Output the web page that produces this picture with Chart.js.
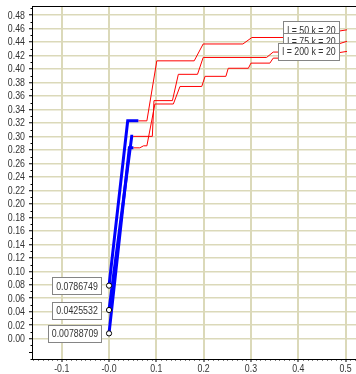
<!DOCTYPE html>
<html>
<head>
<meta charset="utf-8">
<script src="https://cdn.jsdelivr.net/npm/chart.js@4.4.0/dist/chart.umd.min.js"></script>
<style>
  body { margin: 0; background: #fff; }
  canvas { display: block; }
</style>
</head>
<body>
<canvas id="grafico" width="356" height="374"></canvas>
<script>
// ejes
const xTicks = [-0.1, 0, 0.1, 0.2, 0.3, 0.4, 0.5];
const xTickLabels = ['-0.1', '-0.0', '0.1', '0.2', '0.3', '0.4', '0.5'];
const yTicks = [0, 0.02, 0.04, 0.06, 0.08, 0.10, 0.12, 0.14, 0.16, 0.18, 0.20, 0.22, 0.24,
  0.26, 0.28, 0.30, 0.32, 0.34, 0.36, 0.38, 0.40, 0.42, 0.44, 0.46, 0.48];

// tramos azules (arranque)
const azulX50 = [0, 0.0395, 0.062];
const azulY50 = [0.0786749, 0.323, 0.323];
const azulX75 = [0, 0.048, 0.051];
const azulY75 = [0.0425532, 0.300, 0.300];
const azulX200 = [0, 0.043, 0.0515];
const azulY200 = [0.00788709, 0.283, 0.283];

// tramos rojos (escalones)
const rojoX50 = [0.062, 0.080, 0.101, 0.180, 0.199, 0.283, 0.302, 0.475, 0.485, 0.503];
const rojoY50 = [0.323, 0.323, 0.412, 0.412, 0.437, 0.437, 0.4466, 0.4466, 0.456, 0.458];
const rojoX75 = [0.051, 0.0915, 0.095, 0.134, 0.1465, 0.187, 0.199, 0.333, 0.347, 0.475, 0.485, 0.503];
const rojoY75 = [0.300, 0.300, 0.353, 0.353, 0.392, 0.392, 0.417, 0.417, 0.425, 0.425, 0.437, 0.441];
const rojoX200 = [0.0515, 0.065, 0.073, 0.080, 0.097, 0.136, 0.150, 0.196, 0.203, 0.247, 0.252, 0.2945, 0.300, 0.340, 0.347, 0.475, 0.485, 0.503];
const rojoY200 = [0.283, 0.283, 0.286, 0.286, 0.348, 0.348, 0.374, 0.374, 0.389, 0.389, 0.401, 0.401, 0.4086, 0.4086, 0.416, 0.416, 0.424, 0.426];

const etiquetasInicio = ['0.0786749', '0.0425532', '0.00788709'];
const etiquetasFin = ['l = 50 k = 20', 'l = 75 k = 20', 'l = 200 k = 20'];

const FUENTE = '11px "Liberation Sans", Arial, sans-serif';
const ANCHO = 0.8; // letra estrecha
const REJILLA = '#dbd9b9';

function puntos(xs, ys) {
  return xs.map((x, i) => ({ x: x, y: ys[i] }));
}

const azules = [[azulX50, azulY50], [azulX75, azulY75], [azulX200, azulY200]];
const rojos = [[rojoX50, rojoY50], [rojoX75, rojoY75], [rojoX200, rojoY200]];

const datasets = [];
azules.forEach(s => datasets.push({
  data: puntos(s[0], s[1]),
  showLine: true,
  borderColor: '#0000ff',
  borderWidth: 3,
  pointRadius: c => c.dataIndex === 0 ? 2.6 : 0,
  pointBackgroundColor: '#fff',
  pointBorderColor: '#000',
  pointBorderWidth: 1,
  order: 0
}));
rojos.forEach(s => datasets.push({
  data: puntos(s[0], s[1]),
  showLine: true,
  borderColor: '#ff0000',
  borderWidth: 1,
  pointRadius: 0,
  order: 1
}));

// texto estrecho: align 'left' | 'right' | 'center'
function texto(ctx, t, x, y, align) {
  ctx.save();
  ctx.font = FUENTE;
  const w = ctx.measureText(t).width * ANCHO;
  let x0 = x;
  if (align === 'right') x0 = x - w;
  if (align === 'center') x0 = x - w / 2;
  ctx.translate(x0, y);
  ctx.scale(ANCHO, 1);
  ctx.textAlign = 'left';
  ctx.textBaseline = 'middle';
  ctx.fillText(t, 0, 0);
  ctx.restore();
  return w;
}

function caja(ctx, t, xDer, yCentro, pad) {
  ctx.font = FUENTE;
  const w = Math.round(ctx.measureText(t).width * ANCHO + pad * 2);
  const h = 17;
  const x0 = Math.round(xDer - w) + 0.5;
  const y0 = Math.round(yCentro - h / 2) + 0.5;
  ctx.fillStyle = '#fff';
  ctx.fillRect(x0, y0, w, h);
  ctx.strokeStyle = '#858585';
  ctx.lineWidth = 1;
  ctx.strokeRect(x0, y0, w, h);
  ctx.fillStyle = '#333';
  texto(ctx, t, x0 + w / 2, yCentro + 1, 'center');
}

const extras = {
  id: 'extras',
  afterDraw(chart) {
    const ctx = chart.ctx;
    const a = chart.chartArea;
    const sx = chart.scales.x, sy = chart.scales.y;
    ctx.save();
    ctx.strokeStyle = '#000';
    ctx.lineWidth = 1;
    // borde superior
    ctx.beginPath();
    ctx.moveTo(a.left, a.top + 0.5);
    ctx.lineTo(a.right, a.top + 0.5);
    ctx.stroke();
    // marcas menores eje y
    for (let k = -3; k <= 49; k++) {
      const y = Math.round(sy.getPixelForValue(k / 100)) + 0.5;
      const largo = (k === -2) ? 3 : (k % 2 !== 0 ? 1.5 : 0);
      if (!largo) continue;
      ctx.beginPath();
      ctx.moveTo(a.left - largo, y);
      ctx.lineTo(a.left, y);
      ctx.stroke();
    }
    // marcas menores eje x
    for (let k = -16; k <= 52; k++) {
      if (k % 10 === 0) continue;
      const x = Math.round(sx.getPixelForValue(k / 100)) + 0.5;
      ctx.beginPath();
      ctx.moveTo(x, a.bottom);
      ctx.lineTo(x, a.bottom + 1.5);
      ctx.stroke();
    }
    // rotulos de los ejes
    ctx.fillStyle = '#333';
    yTicks.forEach(v => texto(ctx, v.toFixed(2), a.left - 7, sy.getPixelForValue(v) + 0.5, 'right'));
    xTicks.forEach((v, i) => texto(ctx, xTickLabels[i], sx.getPixelForValue(v), a.bottom + 10, 'center'));
    // etiquetas de inicio
    for (let i = 0; i < 3; i++) {
      const p = chart.getDatasetMeta(i).data[0];
      caja(ctx, etiquetasInicio[i], p.x - 8, p.y, 3.5);
    }
    // etiquetas de fin
    for (let i = 0; i < 3; i++) {
      const d = chart.getDatasetMeta(3 + i).data;
      const p = d[d.length - 1];
      caja(ctx, etiquetasFin[i], p.x - 8, p.y, 4);
    }
    ctx.restore();
  }
};

new Chart(document.getElementById('grafico'), {
  type: 'scatter',
  data: { datasets: datasets },
  plugins: [extras],
  options: {
    responsive: false,
    animation: false,
    layout: { autoPadding: false, padding: { top: 6, right: 0, left: 0, bottom: 0 } },
    plugins: { legend: { display: false }, tooltip: { enabled: false } },
    scales: {
      x: {
        type: 'linear',
        min: -0.1628,
        max: 0.522,
        afterBuildTicks: s => { s.ticks = xTicks.map(v => ({ value: v })); },
        afterFit: s => { s.height = 15; },
        grid: { color: REJILLA, lineWidth: 2, tickColor: '#000', tickLength: 3, tickWidth: 1 },
        border: { display: true, color: '#000', width: 1 },
        ticks: { display: false, autoSkip: false }
      },
      y: {
        type: 'linear',
        min: -0.0301,
        max: 0.4933,
        afterBuildTicks: s => { s.ticks = yTicks.map(v => ({ value: v })); },
        afterFit: s => { s.width = 32; },
        grid: { color: REJILLA, lineWidth: 1.5, tickColor: '#000', tickLength: 3, tickWidth: 1 },
        border: { display: true, color: '#000', width: 1 },
        ticks: { display: false, autoSkip: false }
      }
    }
  }
});
</script>
</body>
</html>
